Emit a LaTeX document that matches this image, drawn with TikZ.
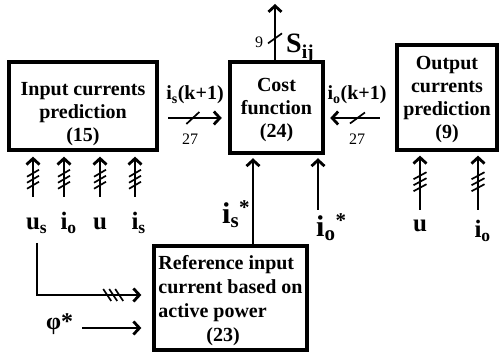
\documentclass[tikz,border=0pt]{standalone}
\usepackage{fontspec}
\setmainfont{Liberation Serif}
\usetikzlibrary{arrows.meta,decorations.markings}
\begin{document}
\begin{tikzpicture}[x=1pt,y=-1pt,
  box/.style={draw,line width=3.3pt,inner sep=0pt},
  btxt/.style={font=\fontsize{20}{23}\selectfont\bfseries,inner sep=0pt,align=center},
  lbl/.style={font=\fontsize{25}{28}\selectfont\bfseries,inner sep=0pt},
  big/.style={font=\fontsize{30}{34}\selectfont\bfseries,inner sep=0pt},
  mid/.style={font=\fontsize{20}{23}\selectfont\bfseries,inner sep=0pt},
  num/.style={font=\fontsize{16}{18}\selectfont,inner sep=0pt},
  arr/.style={line width=2.8pt,-{Straight Barb[length=6pt,width=13pt]}},
  sl/.style={line width=1.7pt,-,shorten >=0pt,shorten <=0pt},
  mk/.style n args={4}{postaction={decorate,decoration={markings,
      mark=at position #1 with {\foreach \d in {#2}{\draw[sl,xshift=\d pt] (#3) -- (#4);}}}}}
]
\useasboundingbox (0,0) rectangle (499,352);

% boxes
\node[box,minimum width=148pt,minimum height=88pt] (inbox) at (83,106) {};
\node[btxt] (intxt) at ([yshift=-8pt]inbox.center) {Input currents\\prediction\\(15)};

\node[box,minimum width=93pt,minimum height=91pt] (cost) at (276.5,107.5) {};
\node[btxt] (costtxt) at ([yshift=-3pt]cost.center) {Cost\\function\\(24)};

\node[box,minimum width=100pt,minimum height=105pt] (outbox) at (447,97.5) {};
\node[btxt] (outtxt) at ([yshift=-2pt]outbox.center) {Output\\currents\\prediction\\(9)};

\node[box,minimum width=153pt,minimum height=104pt] (ref) at (230.5,298) {};
\node[btxt,align=left,font=\fontsize{20}{24}\selectfont\bfseries] (reftxt) at ([yshift=-3pt]ref.center)
  {Reference input\\current based on\\active power\\\hspace*{48pt}(23)};

% input labels
\node[lbl,anchor=base] (us) at (33,230) {u\rlap{\textsubscript{s}}};
\node[lbl,anchor=base] (io) at (64,230) {i\rlap{\textsubscript{o}}};
\node[lbl,anchor=base] (u) at (100,230) {u};
\node[lbl,anchor=base] (is) at (135,230) {i\rlap{\textsubscript{s}}};
\coordinate (tipin) at ([yshift=-5pt]inbox.south);
\foreach \n in {us,io,u,is}{
  \coordinate (\n A) at ([yshift=33pt]\n.base);
  \draw[arr,mk={0.44}{-6,0,6}{-3.5pt,6pt}{3.5pt,-6pt}] (\n A) -- (\n A |- tipin);
}

% output labels
\node[lbl,anchor=base] (u2) at (420,232) {u};
\node[lbl,anchor=base] (io2) at (478,238) {i\rlap{\textsubscript{o}}};
\coordinate (tipout) at ([yshift=-4pt]outbox.south);
\coordinate (u2A) at ([yshift=22pt]u2.base);
\coordinate (io2A) at ([yshift=28pt]io2.base);
\draw[arr,mk={0.52}{-6,0,6}{-3.5pt,6.5pt}{3.5pt,-6.5pt}] (u2A) -- (u2A |- tipout);
\draw[arr,mk={0.52}{-6,0,6}{-3.5pt,6.5pt}{3.5pt,-6.5pt}] (io2A) -- (io2A |- tipout);

% S_ij
\coordinate (sTop) at (275,4);
\draw[arr,mk={0.39}{0}{-5pt,7pt}{5pt,-7pt}] ([xshift=-1.5pt]cost.north) -- (sTop);
\node[num] (n9) at (259,42) {9};
\node[font=\fontsize{28}{32}\selectfont\bfseries,inner sep=0pt,anchor=base west] (sij) at (286,53) {S\textsubscript{ij}};

% is(k+1)
\coordinate (a1) at ([xshift=9.6pt,yshift=-12pt]inbox.east);
\coordinate (a2) at ([xshift=-6.6pt,yshift=-10.5pt]cost.west);
\draw[arr,mk={0.46}{0}{-6.5pt,-6pt}{6.5pt,6pt}] (a1) -- (a2);
\node[mid,anchor=base] (lis) at (195,100) {i\textsubscript{s}(k+1)};
\node[num] (n27a) at (190,139) {27};

% io(k+1)
\coordinate (b1) at ([xshift=-15.6pt,yshift=-20.5pt]outbox.west);
\coordinate (b2) at ([xshift=5.6pt,yshift=-10.5pt]cost.east);
\draw[arr,mk={0.45}{0}{-7.5pt,-5.5pt}{7.5pt,5.5pt}] (b1) -- (b2);
\node[mid,anchor=base] (lio) at (357,100) {i\textsubscript{o}(k+1)};
\node[num] (n27b) at (357,139) {27};

% references into cost
\coordinate (costtip) at ([yshift=-3.6pt]cost.south);
\draw[arr] ([xshift=22.5pt]ref.north) -- ([xshift=22.5pt]ref.north |- costtip);
\node[big,anchor=base west] (isstar) at (222,224) {i\textsubscript{s}\textsuperscript{*}};
\node[big,anchor=base west] (iostar) at (316,237) {i\textsubscript{o}\textsuperscript{*}};
\coordinate (ioS) at (318,210);
\draw[arr] (ioS) -- (ioS |- costtip);

% bottom inputs to reference
\coordinate (usB) at ([xshift=4pt,yshift=-13pt]us.base);
\coordinate (refL1) at ([xshift=-11pt,yshift=3pt]ref.west);
\draw[arr,mk={0.82}{-6,0,6}{-4pt,6pt}{4pt,-6pt}] (usB) |- (refL1);
\node[lbl,anchor=base west,font=\fontsize{24}{28}\selectfont\bfseries] (phi) at (46,330) {φ*};
\coordinate (refL2) at ([xshift=-11pt,yshift=-30pt]ref.west);
\coordinate (phiE) at ([xshift=9pt]phi.east);
\draw[arr] (phiE |- refL2) -- (refL2);
\end{tikzpicture}
\end{document}
